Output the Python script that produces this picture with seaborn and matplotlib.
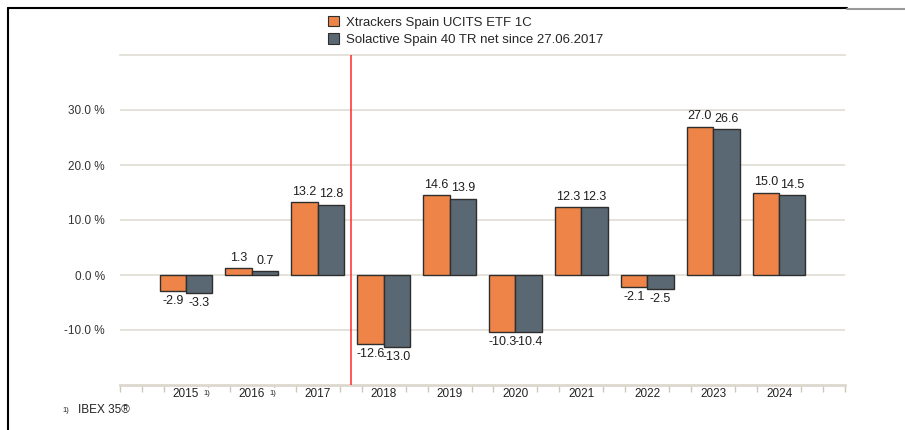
import numpy as np
import pandas as pd
import seaborn as sns
import matplotlib.pyplot as plt
from matplotlib.lines import Line2D
from matplotlib.patches import Patch

sns.set_style("white")
plt.rcParams["font.family"] = ["Liberation Sans", "DejaVu Sans"]

YEARS = ["2015", "2016", "2017", "2018", "2019", "2020", "2021", "2022", "2023", "2024"]
FOOTNOTED = ["2015", "2016"]
SERIES = ["Xtrackers Spain UCITS ETF 1C", "Solactive Spain 40 TR net since 27.06.2017"]
ETF = [-2.9, 1.3, 13.2, -12.6, 14.6, -10.3, 12.3, -2.1, 27.0, 15.0]
INDEX = [-3.3, 0.7, 12.8, -13.0, 13.9, -10.4, 12.3, -2.5, 26.6, 14.5]
YTICKS = [-10, 0, 10, 20, 30]
FOOTNOTE = "IBEX 35®"

PALETTE = {SERIES[0]: "#ee8447", SERIES[1]: "#5a6873"}
GRID = "#e0dcd4"

df = pd.DataFrame({
    "year": YEARS * 2,
    "series": [SERIES[0]] * len(YEARS) + [SERIES[1]] * len(YEARS),
    "value": ETF + INDEX,
})

fig = plt.figure(figsize=(9.05, 4.30), dpi=100)
ax = fig.add_axes([120 / 905, 45 / 430, 725 / 905, 330 / 430])

sns.barplot(data=df, x="year", y="value", hue="series",
    order=YEARS, hue_order=SERIES, palette=PALETTE, saturation=1,
    width=0.8, edgecolor="#2e2e2e", linewidth=1, legend=False,
    ax=ax, zorder=3)

for cont in ax.containers:
    ax.bar_label(cont, fmt="%.1f", padding=3, fontsize=9, color="#1e1e1e")

ax.set_xlim(-1, len(YEARS))
ax.set_ylim(-20, 40)
ax.set_xlabel("")
ax.set_ylabel("")

# y axis
ax.set_yticks(YTICKS)
ax.set_yticklabels([f"{v:.1f} %" for v in YTICKS], fontsize=8.5, color="#333333")
ax.tick_params(axis="y", length=0, pad=11)
ax.grid(axis="y", color=GRID, linewidth=1.2, zorder=0)
ax.set_axisbelow(True)

# x axis: small ticks every third of a category, labels at category centres
ax.xaxis.remove_overlapping_locs = False
ax.set_xticks(np.arange(-1, len(YEARS) + 0.01, 1 / 3))
ax.set_xticklabels([])
ax.set_xticks(range(len(YEARS)), minor=True)
ax.set_xticklabels(YEARS, minor=True, fontsize=8.5, color="#222222")
ax.tick_params(axis="x", which="major", bottom=True, length=5, width=1,
    color="#cdc7bb", direction="out")
ax.tick_params(axis="x", which="minor", bottom=True, length=0, pad=2)
for lbl in ax.get_xticklabels(minor=True):
    lbl.set_bbox(dict(facecolor="white", edgecolor="none", pad=1.5))
for yr in FOOTNOTED:
    i = YEARS.index(yr)
    ax.annotate("1)", xy=(i + 0.32, 0), xycoords=("data", "axes fraction"),
        xytext=(0, -6), textcoords="offset points", fontsize=5.5,
        ha="center", va="center", color="#222222", annotation_clip=False,
        bbox=dict(facecolor="white", edgecolor="none", pad=1))

for side in ["left", "right"]:
    ax.spines[side].set_visible(False)
ax.spines["top"].set_color(GRID)
ax.spines["top"].set_linewidth(1.2)
ax.spines["bottom"].set_color("#ddd8ce")
ax.spines["bottom"].set_linewidth(2)

# index change marker
ax.axvline(2.5, color="#ff2a2a", linewidth=1.1, zorder=4)

# legend
handles = [Patch(facecolor=PALETTE[s], edgecolor="#2e2e2e", linewidth=0.8) for s in SERIES]
fig.legend(handles, SERIES, loc="upper left",
    bbox_to_anchor=(316 / 905, 1 - 4 / 430), frameon=False, fontsize=9.5,
    handlelength=0.85, handleheight=0.85, handletextpad=0.5, labelspacing=0.35)

# footnote
fig.text(62 / 905, 1 - 410 / 430, "1)", fontsize=5.5, va="center", color="#222222")
fig.text(78 / 905, 1 - 410 / 430, FOOTNOTE, fontsize=8.5, va="center", color="#222222")

# frame around the chart
fig.add_artist(Line2D([8 / 905, 847 / 905], [1 - 8 / 430] * 2, color="black",
    linewidth=1.5, transform=fig.transFigure))
fig.add_artist(Line2D([847 / 905, 1], [1 - 9 / 430] * 2, color="#999999",
    linewidth=1.5, transform=fig.transFigure))
fig.add_artist(Line2D([8 / 905] * 2, [0, 1 - 8 / 430], color="black",
    linewidth=1.5, transform=fig.transFigure))

plt.savefig("out.png", dpi=100)
plt.close()
